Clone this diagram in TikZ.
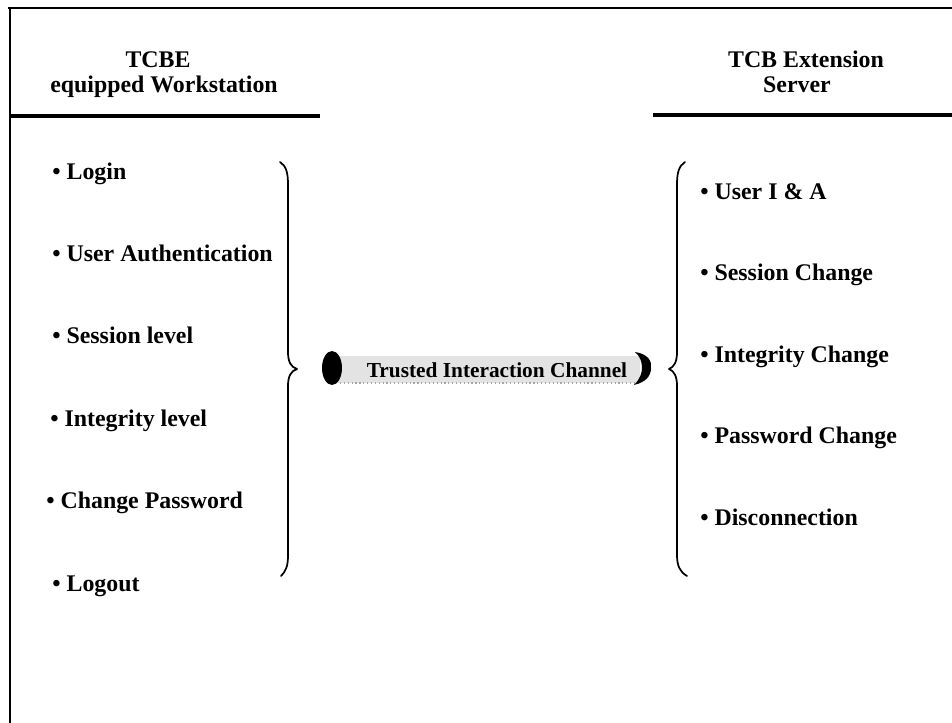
\documentclass[tikz,border=0pt]{standalone}
\usepackage{fontspec}
\setmainfont{Liberation Serif}
\begin{document}
\begin{tikzpicture}[x=0.75pt,y=-0.75pt,
  item/.style={anchor=base west,inner sep=0pt,font=\bfseries\fontsize{17.9}{21}\selectfont},
  head/.style={anchor=base,inner sep=0pt,font=\bfseries\fontsize{17.9}{21}\selectfont},
  rule/.style={line width=2.6pt},
  frameline/.style={line width=1.3pt},
  bracepath/.style={line width=1.3pt,line cap=round,line join=round}]
\useasboundingbox[fill=white] (0,0) rectangle (952,723);

% outer frame (top and left edges)
\draw[frameline] (8,8) -- (952,8);
\draw[frameline] (10,8) -- (10,723);

% column headings
\node[head] (wsA) at (158,68) {TCBE};
\node[head] (wsB) at (164,93) {equipped Workstation};
\draw[rule] (10,116) -- (320,116);

\node[head] (svA) at (806,68) {TCB Extension};
\node[head] (svB) at (797,93) {Server};
\draw[rule] (653,115) -- (952,115);

% workstation functions
\node[item] (l1) at (52,180) {• Login};
\node[item] (l2) at (52,262) {• User Authentication};
\node[item] (l3) at (52,344) {• Session level};
\node[item] (l4) at (50,426) {• Integrity level};
\node[item] (l5) at (46,508) {• Change Password};
\node[item] (l6) at (52,591) {• Logout};

% server functions
\node[item] (r1) at (700,200) {• User I \& A};
\node[item] (r2) at (700,281) {• Session Change};
\node[item] (r3) at (700,362) {• Integrity Change};
\node[item] (r4) at (700,443) {• Password Change};
\node[item] (r5) at (700,525) {• Disconnection};

% braces
\draw[bracepath] (280,162) .. controls (286,166) and (288,172) .. (288,185)
  -- (288,352) .. controls (288,362) and (291,367) .. (297,369)
  .. controls (291,371) and (288,376) .. (288,386)
  -- (288,555) .. controls (288,566) and (286,571) .. (281,576);
\draw[bracepath] (685,162) .. controls (679,166) and (677,172) .. (677,185)
  -- (677,352) .. controls (677,362) and (674,367) .. (669,369)
  .. controls (674,371) and (677,376) .. (677,386)
  -- (677,555) .. controls (677,566) and (680,572) .. (687,576);

% trusted interaction channel: shaded tube with dark end caps
\fill[gray!22] (338,356) rectangle (640,383);
\draw[gray!70,dotted,line width=0.9pt] (340,383) -- (638,383);
\node[inner sep=0pt,font=\bfseries\fontsize{16}{19}\selectfont] (chan) at (497,370) {Trusted Interaction Channel};
\fill[black] (332,368) ellipse [x radius=10,y radius=17];
\fill[black] (635,352) .. controls (648,354) and (652,361) .. (651,368)
  .. controls (651,376) and (646,382) .. (634,385)
  .. controls (640,379) and (642,373) .. (642,368)
  .. controls (642,362) and (640,356) .. (635,352) -- cycle;
\end{tikzpicture}
\end{document}
